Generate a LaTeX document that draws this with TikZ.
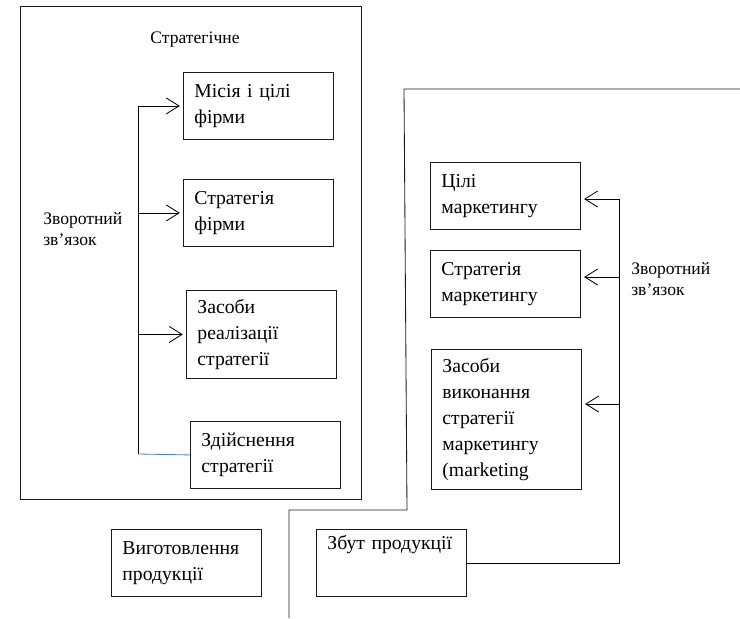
\documentclass[tikz,border=0pt]{standalone}
\usepackage{fontspec}
\setmainfont{LiberationSerif}[Extension=.ttf, UprightFont=*-Regular]
\newfontfamily\schemefont{LiberationSerif}[Extension=.ttf, UprightFont=*-Regular]
\usetikzlibrary{arrows.meta,positioning,calc}
\definecolor{SchemeBlack}{HTML}{1A1A1A}
\definecolor{SchemeBlue}{HTML}{4F81BD}
\tikzset{
    % Base box of the scheme
    stagebox/.style={
        draw=SchemeBlack,
        line width=0.6pt,
        anchor=north west,
        minimum width=3.75cm,
        minimum height=1.675cm,
        text width=3.2cm,
        inner xsep=0.275cm,
        align=left,
        font=\schemefont\fontsize{14}{18.5}\selectfont
    },
    % Three-line box
    tallbox/.style={
        stagebox,
        minimum height=2.2cm
    },
    % Five-line box
    longbox/.style={
        stagebox,
        minimum height=3.5cm
    },
    % Free labels
    labeltext/.style={
        font=\schemefont\fontsize{12.5}{15.5}\selectfont,
        align=left,
        inner sep=0pt
    },
    % Frame lines
    framelin/.style={
        draw=SchemeBlack,
        line width=0.6pt
    },
    % Feedback line
    fbline/.style={
        draw=black,
        line width=0.6pt
    },
    % Feedback arrow
    fbarrow/.style={
        -{Straight Barb[length=3.2mm,width=4mm]},
        line width=0.6pt,
        shorten >=0.08cm,
        draw=black
    }
}
\begin{document}
\begin{tikzpicture}[x=0.025cm, y=-0.025cm]
        \useasboundingbox (0,0) rectangle (740,618);

        % Frames
        \draw[framelin] (20,6) rectangle (361,499);
        \draw[framelin] (740,89) -- (404,89) -- (407,510) -- (289,510) -- (289,618);

        % Strategic level
        \node[labeltext] (strat) at (195,40) {Стратегічне};
        \node[stagebox] (mis) at (183,72) {Місія і цілі\\фірми};
        \node[stagebox] (strf) at (183,179) {Стратегія\\фірми};
        \node[tallbox] (zasr) at (186,290) {Засоби\\реалізації\\стратегії};
        \node[stagebox] (zdsn) at (190,421) {Здійснення\\стратегії};
        \node[labeltext, anchor=west] (fbl) at (43,229) {Зворотний\\зв’язок};

        % Production
        \node[stagebox] (vyg) at (111,529) {Виготовлення\\продукції};

        % Marketing level
        \node[stagebox] (cil) at (430,162) {Цілі\\маркетингу};
        \node[stagebox] (strm) at (430,250) {Стратегія\\маркетингу};
        \node[longbox] (zasv) at (431,349) {Засоби\\виконання\\стратегії\\маркетингу\\(marketing};
        \node[stagebox, text depth=1.0cm] (zbut) at (316,529) {Збут продукції};
        \node[labeltext, anchor=west] (fbr) at (631,279) {Зворотний\\зв’язок};

        % Left feedback
        \coordinate (lfb) at (138,454);
        \draw[fbline, draw=SchemeBlue] (lfb) -- (zdsn.west);
        \draw[fbline] (lfb) -- (lfb |- mis.west);
        \draw[fbarrow] (lfb |- mis.west) -- (mis.west);
        \draw[fbarrow] (lfb |- strf.west) -- (strf.west);
        \draw[fbarrow] (lfb |- zasr.west) -- (zasr.west);

        % Right feedback
        \coordinate (rfb1) at (619,199);
        \coordinate (rfb2) at (619,277);
        \coordinate (rfb3) at (619,404);
        \draw[fbline] (zbut.east) -| (rfb1);
        \draw[fbarrow] (rfb1) -- (rfb1 -| cil.east);
        \draw[fbarrow] (rfb2) -- (rfb2 -| strm.east);
        \draw[fbarrow] (rfb3) -- (rfb3 -| zasv.east);
    \end{tikzpicture}
\end{document}
